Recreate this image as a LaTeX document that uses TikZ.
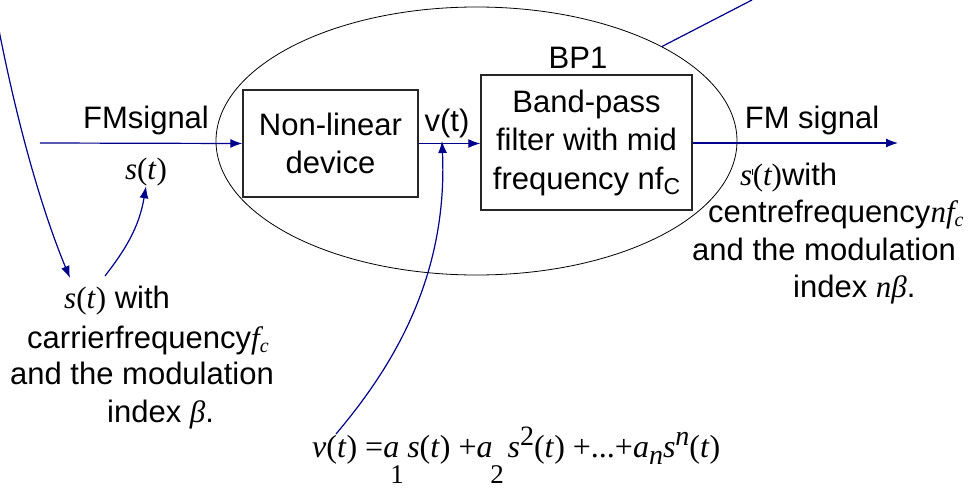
\documentclass[tikz,border=0pt]{standalone}
\usepackage{fontspec}
\setmainfont{Liberation Sans}
\newfontfamily\tms{Liberation Serif}
\usetikzlibrary{arrows.meta,shapes.geometric}
\definecolor{navy}{RGB}{0,0,140}
\tikzset{
  conn/.style={draw=navy, line width=1.2pt, -{Latex[length=12pt,width=9pt]}},
  plainconn/.style={draw=navy, line width=1.2pt},
  blk/.style={draw=black!85, line width=1.3pt, align=center, inner sep=0pt,
              font=\fontsize{31}{38.5}\selectfont},
  lbl/.style={inner sep=0pt, font=\fontsize{31}{38}\selectfont},
  tx/.style={inner sep=0pt, anchor=base west, font=\fontsize{31}{38}\selectfont},
}
\newcommand{\ti}[1]{{\tms\itshape #1}}
\newcommand{\tu}[1]{{\tms #1}}
\begin{document}
\begin{tikzpicture}[x=1pt,y=-1pt]
\useasboundingbox (0,0) rectangle (970,490);
\clip (0,0) rectangle (970,490);
% ellipse BP1 region
\node[draw=black, line width=0.8pt, ellipse, minimum width=521pt, minimum height=268pt, inner sep=0pt] (ell) at (476.5,141) {};
% blocks
\node[blk, minimum width=175pt, minimum height=107pt] (nl) at (330.5,143.5) {Non-linear\\device};
\node[blk, minimum width=211pt, minimum height=135pt] (bp) at (586.5,142.5)
  {Band-pass\\filter with mid\\frequency nf\raisebox{-5pt}{\fontsize{23}{23}\selectfont C}};
\node[lbl] (bp1) at (578,58) {BP1};
% signal line
\coordinate (in) at (40,143);
\coordinate (out) at (898,143);
\draw[conn] (in) -- (nl.west);
\draw[conn] (nl.east) -- (bp.west |- nl.east);
\draw[conn] (bp.east |- out) -- (out);
% labels
\node[lbl] (fmin) at (146,120) {FMsignal};
\node[lbl, font=\tms\fontsize{31}{38}\selectfont] (sin) at (146,172) {\textit{s}(\textit{t})};
\node[lbl] (vt) at (447,123) {v(t)};
\node[lbl] (fmout) at (812,120) {FM signal};
% left text
\node[tx] (l1) at (64,308) {\tms\textit{s}(\textit{t})\rmfamily{} with};
\node[tx] (l2) at (27,348) {carrierfrequency\ti{f}\raisebox{-4pt}{\tms\fontsize{20}{20}\selectfont\itshape c}};
\node[tx] (l3) at (10,384) {and the modulation};
\node[tx] (l4) at (107,422) {index \ti{β}.};
% right text
\node[tx] (r1) at (740,185) {\ti{s}\raisebox{10pt}{\rule{0.5pt}{6pt}}\tu{(}\ti{t}\tu{)}with};
\node[tx] (r2) at (708,222) {centrefrequency\ti{nf}\raisebox{-4pt}{\tms\fontsize{20}{20}\selectfont\itshape c}};
\node[tx] (r3) at (692,260) {and the modulation};
\node[tx] (r4) at (793,297) {index \ti{nβ}.};
% equation
\node[tx, font=\tms\fontsize{32}{32}\selectfont] (eq) at (312,457)
  {\textit{v}(\textit{t}) =\textit{a} \textit{s}(\textit{t}) +\textit{a}\hspace{15pt}\textit{s}\raisebox{12pt}{\fontsize{28}{28}\selectfont 2}(\textit{t}) +...+\textit{a}\raisebox{-7pt}{\fontsize{28}{28}\selectfont\textit{n}}\textit{s}\raisebox{12pt}{\fontsize{28}{28}\selectfont\textit{n}}(\textit{t})};
\node[lbl, anchor=base, font=\tms\fontsize{27}{27}\selectfont] (sub1) at (397,483) {1};
\node[lbl, anchor=base, font=\tms\fontsize{27}{27}\selectfont] (sub2) at (497,483) {2};
% connectors
\coordinate (topleft) at (-3,20);
\coordinate (ltip) at (70,278);
\coordinate (topright) at (752,0);
\coordinate (eqv) at (336,434);
\coordinate (vtip) at (442,141);
\draw[conn] (topleft) .. controls (22,150) and (50,230) .. (ltip);
\draw[conn] (105,276) .. controls (125,250) and (139,228) .. (sin.south);
\draw[conn] (eqv) .. controls (390,370) and (448,280) .. (vtip);
\draw[plainconn] (ell.27) -- (topright);
\end{tikzpicture}
\end{document}
